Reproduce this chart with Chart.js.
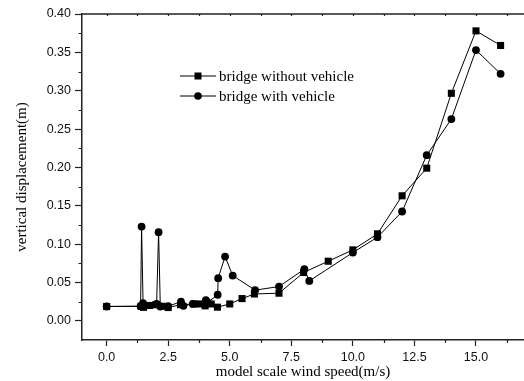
<!DOCTYPE html>
<html lang="en">
<head>
    <meta charset="UTF-8">
    <title>Vertical displacement vs wind speed</title>
    <script src="https://cdn.jsdelivr.net/npm/chart.js"></script>
    <style>
        body {
            margin: 0;
            background-color: #ffffff;
        }
        #chartContainer {
            width: 524px;
            height: 381px;
            position: relative;
        }
    </style>
</head>
<body>
    <div id="chartContainer">
        <canvas id="dispChart"></canvas>
    </div>

    <script>
        // bridge without vehicle (squares)
        const speedNoVehicle = [0, 1.4, 1.5, 1.75, 2.0, 2.25, 2.5, 3.0, 3.55, 3.75, 4.0, 4.25, 4.5, 5.0, 5.5, 6.0, 7.0, 8.0, 9.0, 10.0, 11.0, 12.0, 13.0, 14.0, 15.0, 16.0];
        const dispNoVehicle  = [0.0187, 0.019, 0.0176, 0.020, 0.021, 0.019, 0.0173, 0.021, 0.022, 0.022, 0.0195, 0.022, 0.0178, 0.022, 0.029, 0.035, 0.036, 0.063, 0.0777, 0.0925, 0.1134, 0.163, 0.199, 0.2966, 0.378, 0.359];

        // bridge with vehicle (circles)
        const speedVehicle = [0, 1.38, 1.42, 1.48, 2.03, 2.11, 2.18, 2.5, 3.02, 3.12, 3.5, 4.03, 4.1, 4.51, 4.53, 4.81, 5.12, 6.03, 7.0, 8.03, 8.23, 10.0, 11.0, 12.0, 13.0, 14.0, 15.0, 16.0];
        const dispVehicle  = [0.0187, 0.019, 0.1229, 0.023, 0.022, 0.1155, 0.0187, 0.019, 0.025, 0.0195, 0.022, 0.027, 0.024, 0.034, 0.0556, 0.0838, 0.059, 0.040, 0.0447, 0.0673, 0.052, 0.089, 0.109, 0.1425, 0.216, 0.263, 0.353, 0.322];

        // axis ticks: labelled (major) and unlabelled (minor)
        const xMajorTicks = [0, 2.5, 5, 7.5, 10, 12.5, 15];
        const xTickLabels = ['0.0', '2.5', '5.0', '7.5', '10.0', '12.5', '15.0'];
        const xMinorTicks = [1.25, 3.75, 6.25, 8.75, 11.25, 13.75, 16.25];
        const yMajorTicks = [0, 0.05, 0.1, 0.15, 0.2, 0.25, 0.3, 0.35, 0.4];
        const yTickLabels = ['0.00', '0.05', '0.10', '0.15', '0.20', '0.25', '0.30', '0.35', '0.40'];
        const yMinorTicks = [0.025, 0.075, 0.125, 0.175, 0.225, 0.275, 0.325, 0.375];

        const seriesNames = ['bridge without vehicle', 'bridge with vehicle'];

        function toPoints(xs, ys) {
            return xs.map((x, i) => ({ x: x, y: ys[i] }));
        }

        const axisColor = '#222';
        const serif = "'Liberation Serif', 'Times New Roman', serif";
        const sans = "'Liberation Sans', Arial, sans-serif";

        // top frame line, minor ticks and the legend inside the plot
        const framePlugin = {
            id: 'framePlugin',
            afterDraw(chart) {
                const ctx = chart.ctx;
                const area = chart.chartArea;
                const xs = chart.scales.x;
                const ys = chart.scales.y;
                ctx.save();
                ctx.strokeStyle = axisColor;
                ctx.lineWidth = 1.5;
                ctx.beginPath();
                ctx.moveTo(area.left, area.top);
                ctx.lineTo(area.right, area.top);
                ctx.stroke();

                ctx.lineWidth = 1.2;
                ctx.beginPath();
                xMajorTicks.concat(xMinorTicks).forEach(v => {
                    const px = Math.round(xs.getPixelForValue(v)) + 0.5;
                    ctx.moveTo(px, area.top);
                    ctx.lineTo(px, area.top + 2);
                });
                xMinorTicks.forEach(v => {
                    const px = Math.round(xs.getPixelForValue(v)) + 0.5;
                    ctx.moveTo(px, area.bottom);
                    ctx.lineTo(px, area.bottom + 3);
                });
                yMinorTicks.forEach(v => {
                    const py = Math.round(ys.getPixelForValue(v)) + 0.5;
                    ctx.moveTo(area.left, py);
                    ctx.lineTo(area.left - 3.5, py);
                });
                ctx.stroke();

                // legend
                const rows = [76, 96];
                chart.data.datasets.forEach((ds, i) => {
                    const y = rows[i];
                    ctx.strokeStyle = '#000';
                    ctx.lineWidth = 1;
                    ctx.beginPath();
                    ctx.moveTo(180, y);
                    ctx.lineTo(216, y);
                    ctx.stroke();
                    ctx.fillStyle = '#000';
                    if (ds.pointStyle === 'rect') {
                        ctx.fillRect(194.5, y - 3.5, 7, 7);
                    } else {
                        ctx.beginPath();
                        ctx.arc(198, y, 3.8, 0, Math.PI * 2);
                        ctx.fill();
                    }
                    ctx.font = '15px ' + serif;
                    ctx.textBaseline = 'middle';
                    ctx.fillText(ds.label, 219, y + 1);
                });
                ctx.restore();
            }
        };

        const ctx = document.getElementById('dispChart').getContext('2d');
        new Chart(ctx, {
            type: 'scatter',
            data: {
                datasets: [{
                    label: seriesNames[0],
                    data: toPoints(speedNoVehicle, dispNoVehicle),
                    showLine: true,
                    borderColor: '#000',
                    backgroundColor: '#000',
                    borderWidth: 1,
                    pointStyle: 'rect',
                    pointRadius: 5,
                    pointBorderWidth: 0
                }, {
                    label: seriesNames[1],
                    data: toPoints(speedVehicle, dispVehicle),
                    showLine: true,
                    borderColor: '#000',
                    backgroundColor: '#000',
                    borderWidth: 1,
                    pointStyle: 'circle',
                    pointRadius: 3.9,
                    pointBorderWidth: 0
                }]
            },
            options: {
                responsive: true,
                maintainAspectRatio: false,
                animation: false,
                layout: {
                    autoPadding: false,
                    padding: { top: 14, left: 0, right: 0, bottom: 0 }
                },
                plugins: {
                    legend: { display: false },
                    tooltip: { enabled: false }
                },
                scales: {
                    x: {
                        type: 'linear',
                        min: -1,
                        max: 16.95,
                        afterBuildTicks: s => { s.ticks = xMajorTicks.map(v => ({ value: v })); },
                        afterFit: s => {
                            s.height = 41;
                            s.paddingLeft = 0;
                            s.paddingRight = 0;
                        },
                        grid: { drawOnChartArea: false, tickLength: 6, tickColor: axisColor, tickWidth: 1.2 },
                        border: { color: axisColor, width: 1.5 },
                        ticks: {
                            padding: 4,
                            color: '#111',
                            font: { family: sans, size: 12.5 },
                            maxRotation: 0,
                            autoSkip: false,
                            callback: (v, i) => xTickLabels[i]
                        },
                        title: {
                            display: true,
                            text: 'model scale wind speed(m/s)',
                            color: '#000',
                            font: { family: serif, size: 15 },
                            padding: { top: 0, bottom: 0 }
                        }
                    },
                    y: {
                        type: 'linear',
                        min: -0.025,
                        max: 0.4,
                        afterBuildTicks: s => { s.ticks = yMajorTicks.map(v => ({ value: v })); },
                        afterFit: s => {
                            s.width = 82;
                            s.paddingTop = 0;
                            s.paddingBottom = 0;
                        },
                        grid: { drawOnChartArea: false, tickLength: 7, tickColor: axisColor, tickWidth: 1.2 },
                        border: { color: axisColor, width: 1.5 },
                        ticks: {
                            padding: 4,
                            color: '#111',
                            font: { family: sans, size: 12.5 },
                            autoSkip: false,
                            callback: (v, i) => yTickLabels[i]
                        },
                        title: {
                            display: true,
                            text: 'vertical displacement(m)',
                            color: '#000',
                            font: { family: serif, size: 15 },
                            padding: { top: 13, bottom: 0 }
                        }
                    }
                }
            },
            plugins: [framePlugin]
        });
    </script>
</body>
</html>
